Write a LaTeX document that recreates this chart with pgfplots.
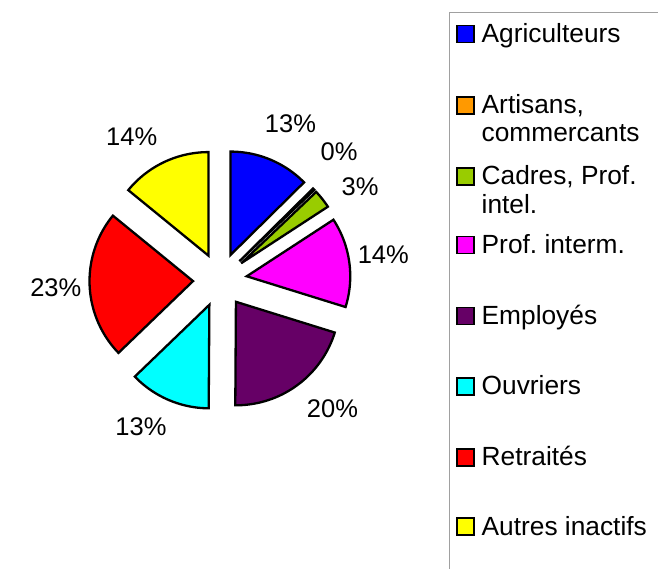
\documentclass[border=0pt]{standalone}
\usepackage{pgfplots}
\usepackage{pgfplotstable}
\pgfplotsset{compat=1.18}
\usepackage{fontspec}
\setmainfont{Liberation Sans}
\frenchspacing

\definecolor{cAgri}{RGB}{0,0,255}
\definecolor{cArt}{RGB}{255,153,0}
\definecolor{cCad}{RGB}{153,204,0}
\definecolor{cProf}{RGB}{255,0,255}
\definecolor{cEmp}{RGB}{102,0,102}
\definecolor{cOuv}{RGB}{0,255,255}
\definecolor{cRet}{RGB}{255,0,0}
\definecolor{cAut}{RGB}{255,255,0}
\definecolor{legborder}{RGB}{160,160,160}

% shares of the pie, in percent, clockwise from 12 o'clock
\pgfplotstableread{
share col
12.6 cAgri
0.3 cArt
2.9 cCad
14.0 cProf
20.3 cEmp
12.7 cOuv
23.1 cRet
14.1 cAut
}\piedata

% geometry in picture pixels (y downwards)
\def\cx{220}
\def\cy{280}
\def\R{103.5}
\def\dd{27}

\newcommand\pieslice[3]{%
  \pgfmathsetmacro\aS{90-3.6*#1}%
  \pgfmathsetmacro\aE{90-3.6*(#1+#2)}%
  \pgfmathsetmacro\aM{(\aS+\aE)/2}%
  \pgfmathsetmacro\ox{\cx+\dd*cos(\aM)}%
  \pgfmathsetmacro\oy{\cy-\dd*sin(\aM)}%
  \edef\temp{\noexpand\addplot[fill=#3, draw=black, line width=2.3bp, line join=miter,
     domain=\aE:\aS, samples=80, variable=\noexpand\t]
     ({\ox+\R*cos(\noexpand\t)},{\oy-\R*sin(\noexpand\t)}) -- (axis cs:\ox,\oy) -- cycle;}%
  \temp
}

\newcommand\pctfont{\fontsize{25.5bp}{30bp}\selectfont}
\newcommand\legfont{\fontsize{26.3bp}{28bp}\selectfont}

\begin{document}
\begin{tikzpicture}
\useasboundingbox (0,0) rectangle (658bp,569bp);
\begin{axis}[
  at={(0,0)}, anchor=south west,
  width=658bp, height=569bp, scale only axis,
  xmin=0, xmax=658, ymin=0, ymax=569, y dir=reverse,
  hide axis, clip=false,
]
\gdef\cum{0}
\pgfplotsforeachungrouped \i in {0,...,7} {
  \pgfplotstablegetelem{\i}{share}\of\piedata \let\val\pgfplotsretval
  \pgfplotstablegetelem{\i}{col}\of\piedata \let\col\pgfplotsretval
  \pieslice{\cum}{\val}{\col}
  \pgfmathparse{\cum+\val}\xdef\cum{\pgfmathresult}
}

% percentage labels
\begin{scope}[every node/.style={anchor=base, inner sep=0pt, font=\pctfont}]
\node at (axis cs:290.5,132.3) {13\%};
\node at (axis cs:339,160) {0\%};
\node at (axis cs:360,195.7) {3\%};
\node at (axis cs:383.3,263.3) {14\%};
\node at (axis cs:332.5,417.7) {20\%};
\node at (axis cs:141,435) {13\%};
\node at (axis cs:55.8,296) {23\%};
\node at (axis cs:131.7,145) {14\%};
\end{scope}

% legend
\draw[legborder, line width=1bp] (axis cs:658,12.7) -- (axis cs:449,12.7) -- (axis cs:449,569);
\begin{scope}[every node/.style={anchor=base west, inner sep=0pt, font=\legfont}]
\newcommand\legsq[2]{\draw[fill=#1, draw=black, line width=1.7bp] (axis cs:457,#2-16.8) rectangle (axis cs:474,#2+0.3);}
\legsq{cAgri}{42.3}   \node at (axis cs:481.5,42.3) {Agriculteurs};
\legsq{cArt}{113.5}   \node at (axis cs:481.5,113.5) {Artisans,};
                      \node at (axis cs:481.5,141.5) {commercants};
\legsq{cCad}{184.5}   \node at (axis cs:481.5,184.5) {Cadres, Prof.};
                      \node at (axis cs:481.5,213) {intel.};
\legsq{cProf}{253.3}  \node at (axis cs:481.5,253.3) {Prof. interm.};
\legsq{cEmp}{324.3}   \node at (axis cs:481.5,324.3) {Employés};
\legsq{cOuv}{394.5}   \node at (axis cs:481.5,394.5) {Ouvriers};
\legsq{cRet}{465.5}   \node at (axis cs:481.5,465.5) {Retraités};
\legsq{cAut}{535}     \node at (axis cs:481.5,535) {Autres inactifs};
\end{scope}
\end{axis}
\end{tikzpicture}
\end{document}
